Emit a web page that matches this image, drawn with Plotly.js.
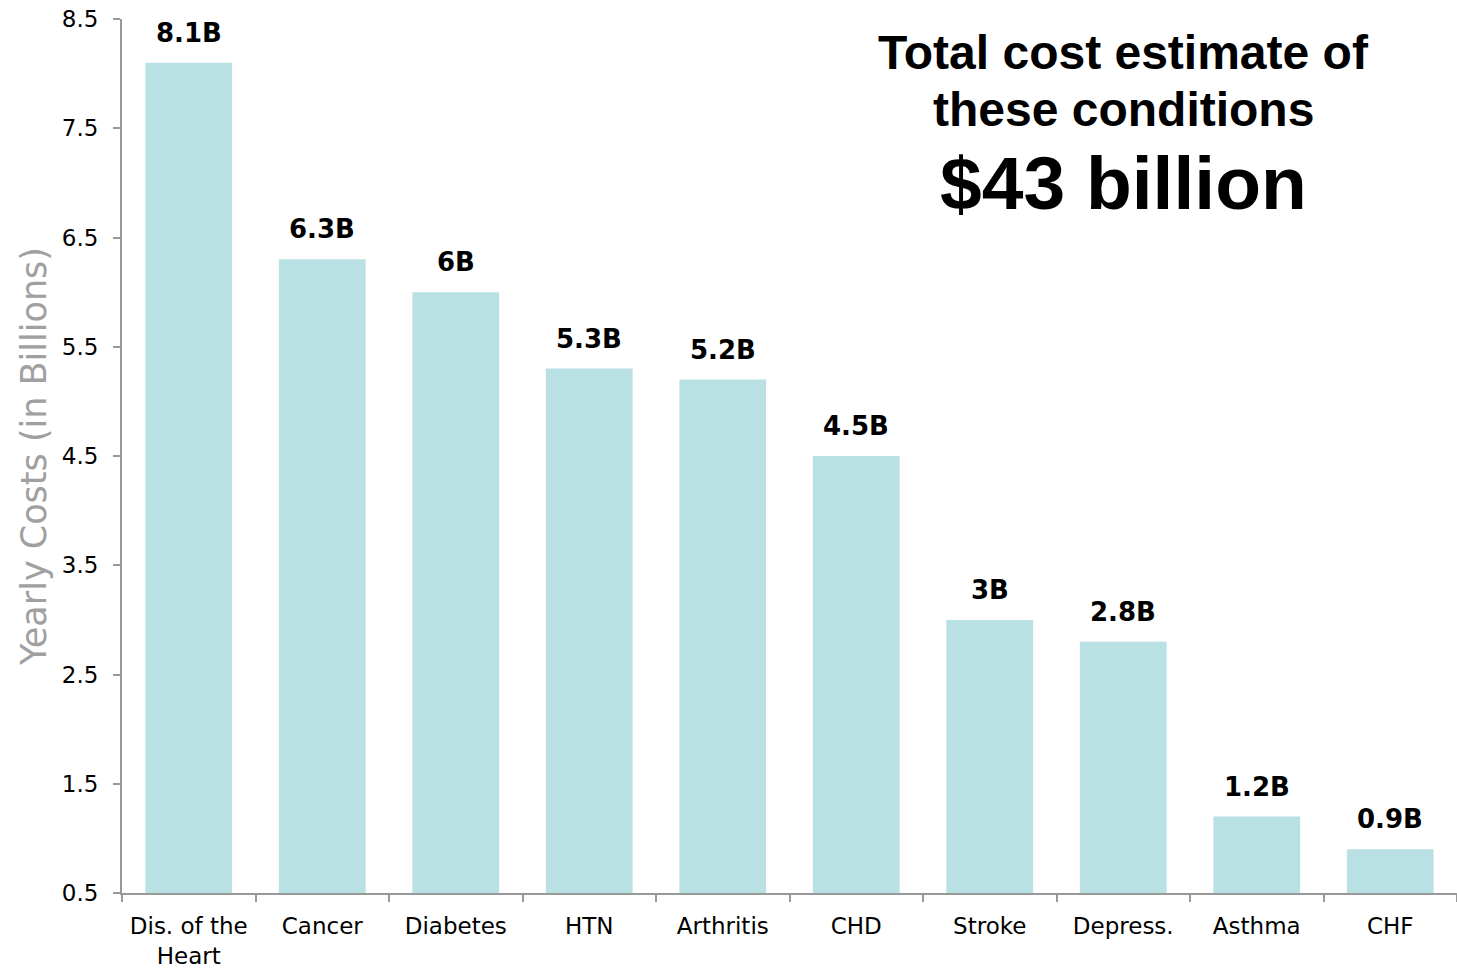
<!DOCTYPE html>
<html>
<head>
<meta charset="utf-8">
<script src="https://cdn.plot.ly/plotly-3.0.1.min.js"></script>
<style>html,body{margin:0;padding:0;background:#fff;}#chart{width:1457px;height:970px;}</style>
</head>
<body>
<div id="chart"></div>
<script>
const categories = ["Dis. of the<br>Heart", "Cancer", "Diabetes", "HTN", "Arthritis", "CHD", "Stroke", "Depress.", "Asthma", "CHF"];
const costs = [8.1, 6.3, 6, 5.3, 5.2, 4.5, 3, 2.8, 1.2, 0.9];
const costLabels = ["8.1B", "6.3B", "6B", "5.3B", "5.2B", "4.5B", "3B", "2.8B", "1.2B", "0.9B"];
const yTicks = [0.5, 1.5, 2.5, 3.5, 4.5, 5.5, 6.5, 7.5, 8.5];
const titleLines = ["Total cost estimate of", "these conditions", "$43 billion"];

const axisFont = "DejaVu Sans, Noto Sans, sans-serif";
const titleFont = "Liberation Sans, Arial, sans-serif";

const trace = {
  type: "bar",
  x: categories,
  y: costs,
  marker: {color: "#b9e0e3"},
  hoverinfo: "skip"
};

const valueAnnotations = categories.map((c, i) => ({
  x: c, y: costs[i], xref: "x", yref: "y",
  text: costLabels[i],
  showarrow: false,
  xanchor: "center", yanchor: "bottom",
  yshift: 13,
  font: {family: axisFont, size: 26, color: "#000", weight: 700}
}));

const titleAnnotations = [
  {text: titleLines[0], x: 0.75, y: 0.962, xref: "paper", yref: "paper", xanchor: "center", yanchor: "middle", showarrow: false,
   font: {family: titleFont, size: 48, color: "#000", weight: 700}},
  {text: titleLines[1], x: 0.75, y: 0.897, xref: "paper", yref: "paper", xanchor: "center", yanchor: "middle", showarrow: false,
   font: {family: titleFont, size: 48, color: "#000", weight: 700}},
  {text: titleLines[2], x: 0.75, y: 0.812, xref: "paper", yref: "paper", xanchor: "center", yanchor: "middle", showarrow: false,
   font: {family: titleFont, size: 75, color: "#000", weight: 700}}
];

const layout = {
  width: 1457,
  height: 970,
  margin: {l: 122, r: 0, t: 19, b: 77},
  paper_bgcolor: "#fff",
  plot_bgcolor: "#fff",
  bargap: 0.35,
  showlegend: false,
  font: {family: axisFont, color: "#000"},
  xaxis: {
    type: "category",
    showline: true,
    linecolor: "#999",
    linewidth: 2,
    ticks: "outside",
    tickson: "boundaries",
    ticklen: 7,
    tickcolor: "#999",
    tickwidth: 2,
    ticklabelstandoff: 11,
    tickfont: {family: axisFont, size: 23, color: "#000"},
    showgrid: false,
    zeroline: false
  },
  yaxis: {
    range: [0.5, 8.5],
    tickvals: yTicks,
    ticktext: yTicks.map(v => v.toFixed(1)),
    showline: true,
    linecolor: "#999",
    linewidth: 2,
    ticks: "outside",
    ticklen: 7,
    tickcolor: "#999",
    tickwidth: 2,
    ticklabelstandoff: 10,
    tickfont: {family: axisFont, size: 23, color: "#000"},
    showgrid: false,
    zeroline: false,
    title: {text: "Yearly Costs (in Billions)", font: {family: axisFont, size: 35, color: "#a0a0a0"}, standoff: 5}
  },
  annotations: valueAnnotations.concat(titleAnnotations)
};

Plotly.newPlot("chart", [trace], layout, {displayModeBar: false, staticPlot: true});
</script>
</body>
</html>
